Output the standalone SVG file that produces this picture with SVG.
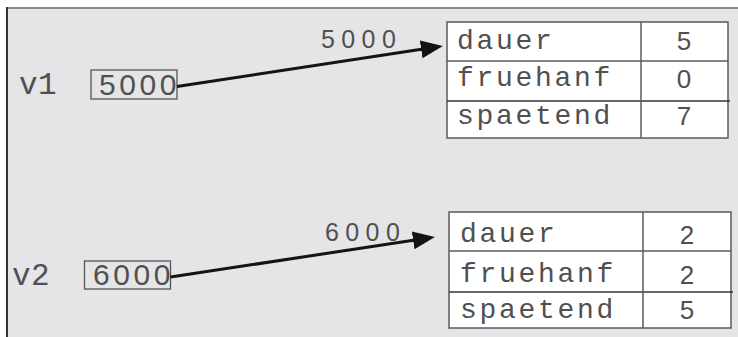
<svg xmlns="http://www.w3.org/2000/svg" width="738" height="337" viewBox="0 0 738 337">
  <style>
    .panel { fill: #e5e5e7; }
    .cell { fill: #ffffff; stroke: #5a5a5a; stroke-width: 1.5; }
    .rule { stroke: #5a5a5a; stroke-width: 1.5; }
    .rule-dark { stroke: #333333; stroke-width: 1.5; }
    .box { fill: none; stroke: #555555; stroke-width: 1.3; }
    .mono { font-family: "Liberation Mono", "DejaVu Sans Mono", monospace; fill: #505050; }
    .num { font-family: "Liberation Sans", Arial, sans-serif; fill: #505050; }
    .field { font-size: 28px; letter-spacing: 2.7px; }
    .val { font-size: 26px; text-anchor: middle; }
    .var { font-size: 31px; letter-spacing: 0.5px; }
    .ptr { font-size: 30px; letter-spacing: 3.6px; }
    .addr { font-size: 25px; letter-spacing: 6.4px; }
    .conn { stroke: #141414; stroke-width: 3; fill: none; marker-end: url(#head); }
  </style>
  <defs>
    <marker id="head" markerUnits="userSpaceOnUse" markerWidth="24" markerHeight="20" refX="12" refY="9" orient="auto">
      <path d="M0,0 L22,9 L0,18 z" fill="#141414"/>
    </marker>
  </defs>

  <!-- background panel with frame -->
  <rect x="0" y="0" width="738" height="337" fill="#ffffff"/>
  <rect class="panel" x="7" y="8" width="731" height="329"/>
  <line x1="6" y1="8" x2="738" y2="8" stroke="#8a8a8a" stroke-width="2"/>
  <line x1="7" y1="7" x2="7" y2="337" stroke="#333333" stroke-width="2"/>

  <!-- variable v1 -->
  <g id="v1">
    <text class="mono var" x="19" y="94">v1</text>
    <rect class="box" x="91" y="70" width="86" height="29"/>
    <text class="num ptr" x="99" y="95">5000</text>
  </g>

  <!-- variable v2 -->
  <g id="v2">
    <text class="mono var" x="12" y="285">v2</text>
    <rect class="box" x="84.5" y="261" width="86" height="28"/>
    <text class="num ptr" x="93" y="285">6000</text>
  </g>

  <!-- record at address 5000 -->
  <g id="rec5000">
    <text class="num addr" x="321" y="48">5000</text>
    <rect class="cell" x="447" y="22" width="281" height="116"/>
    <line class="rule" x1="447" y1="61" x2="728" y2="61"/>
    <line class="rule-dark" x1="447" y1="101" x2="730" y2="101"/>
    <line class="rule" x1="641" y1="22" x2="641" y2="138"/>
    <text class="mono field" x="457" y="49">dauer</text>
    <text class="mono field" x="457" y="86">fruehanf</text>
    <text class="mono field" x="457" y="124">spaetend</text>
    <text class="num val" x="684" y="50">5</text>
    <text class="num val" x="684" y="88">0</text>
    <text class="num val" x="684" y="125">7</text>
  </g>

  <!-- record at address 6000 -->
  <g id="rec6000">
    <text class="num addr" x="325" y="241">6000</text>
    <rect class="cell" x="449" y="212" width="282" height="116"/>
    <line class="rule" x1="449" y1="251" x2="731" y2="251"/>
    <line class="rule-dark" x1="449" y1="292" x2="733" y2="292"/>
    <line class="rule" x1="643" y1="212" x2="643" y2="328"/>
    <text class="mono field" x="460" y="242">dauer</text>
    <text class="mono field" x="460" y="282">fruehanf</text>
    <text class="mono field" x="460" y="318">spaetend</text>
    <text class="num val" x="687" y="244">2</text>
    <text class="num val" x="687" y="284">2</text>
    <text class="num val" x="687" y="319">5</text>
  </g>

  <!-- pointers -->
  <g id="connectors">
    <line class="conn" x1="177" y1="86.5" x2="433" y2="47.5"/>
    <line class="conn" x1="170.5" y1="277" x2="425" y2="238.5"/>
  </g>
</svg>
